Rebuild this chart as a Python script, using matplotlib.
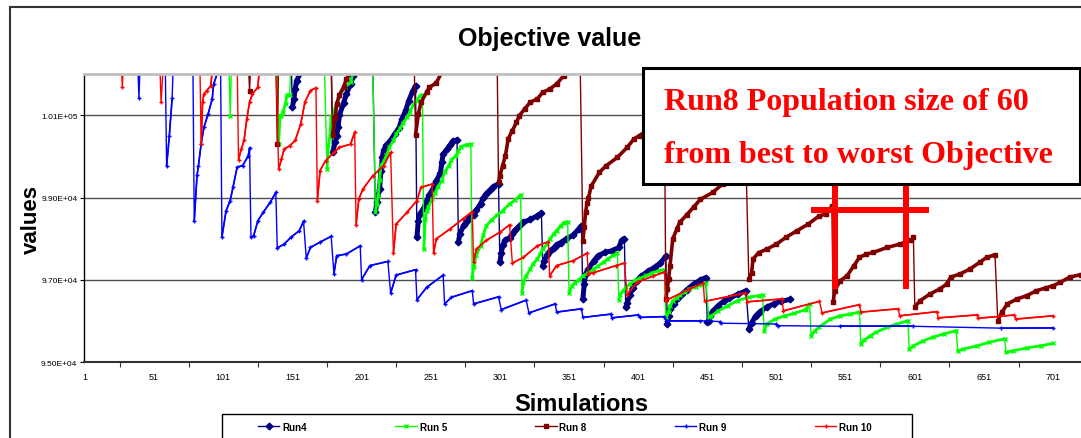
import numpy as np
import matplotlib.pyplot as plt
from matplotlib.lines import Line2D
from matplotlib.patches import Rectangle
from matplotlib.ticker import FuncFormatter

plt.rcParams['font.family'] = ['Liberation Sans', 'DejaVu Sans']

TOP = 102400  # objective values above the plotted range

# (simulation, objective value) per run
run4 = [
    (1, TOP), (150, TOP), (151, 101200), (152, 101400), (153, 101640), (154, 101840), (157, 102050), (158, TOP),
    (179, TOP), (180, 100100), (182, 100350), (183, 100510), (184, 100720), (185, 101010), (188, 101300),
    (190, 101520), (193, 101760), (195, 101960), (196, TOP),
    (209, TOP), (211, 98650), (212, 98890), (214, 99210), (215, 99650), (216, 99990), (217, 100160), (219, 100280),
    (222, 100400), (225, 100550), (228, 100690), (230, 100900), (233, 101130), (235, 101350), (238, 101590), (240, 101720),
    (241, 98040), (242, 98430), (243, 98600), (246, 98750), (248, 98920), (250, 99070), (253, 99240), (255, 99410),
    (258, 99600), (259, 99860), (260, 100060), (263, 100180), (265, 100280), (267, 100380), (270, 100400),
    (271, 97920), (272, 98120), (275, 98340), (277, 98430), (279, 98510), (282, 98580), (284, 98700), (287, 98850),
    (289, 98990), (291, 99090), (294, 99190), (296, 99260), (300, 99340),
    (301, 97430), (302, 97660), (303, 97850), (305, 97970), (308, 98030), (310, 98110), (312, 98210), (315, 98310),
    (318, 98400), (323, 98470), (328, 98560), (331, 98630),
    (332, 97350), (333, 97470), (335, 97610), (337, 97700), (340, 97780), (342, 97860), (345, 97910), (349, 98000),
    (354, 98090), (358, 98240), (360, 98310),
    (361, 96540), (362, 96900), (363, 97150), (365, 97270), (369, 97470), (372, 97590), (377, 97670), (382, 97710),
    (387, 97790), (389, 97960), (391, 98000),
    (392, 96340), (393, 96440), (395, 96640), (397, 96810), (400, 96980), (403, 97090), (408, 97210), (413, 97310),
    (417, 97410), (421, 97580),
    (422, 95930), (423, 96130), (424, 96300), (427, 96420), (430, 96560), (433, 96660), (436, 96760), (441, 96900),
    (446, 97000), (450, 97060),
    (451, 95970), (452, 96010), (453, 96130), (455, 96250), (459, 96380), (463, 96490), (467, 96560), (473, 96650),
    (479, 96740),
    (481, 95810), (483, 95960), (486, 96130), (489, 96230), (494, 96340), (499, 96420), (504, 96480), (511, 96530),
]

run5 = [
    (1, TOP), (105, TOP), (106, 100990), (107, TOP),
    (140, TOP), (141, 100300), (142, 100990), (143, 100990), (144, 101080), (146, 101280), (147, 101500),
    (149, 101500), (150, TOP),
    (174, TOP), (176, 99700), (177, 100280), (178, 100470), (179, 100960), (181, 101110), (183, 101300),
    (185, 101470), (189, 101680), (193, 101800), (195, 102050), (196, TOP),
    (209, TOP), (211, 98650), (212, 98850), (213, 99050), (214, 99430), (215, 99790), (217, 99880), (219, 100030),
    (221, 100220), (224, 100390), (226, 100550), (229, 100690), (231, 100820), (234, 100950), (236, 101090),
    (238, 101240), (241, 101360), (243, 101460), (245, 101500),
    (246, 97750), (247, 98480), (248, 98680), (249, 98770), (252, 98960), (254, 99110), (256, 99260), (259, 99410),
    (261, 99620), (264, 99780), (266, 99920), (269, 100010), (271, 100130), (273, 100240), (277, 100290), (280, 100300),
    (281, 97050), (282, 97320), (284, 97610), (287, 97830), (289, 98090), (291, 98310), (295, 98460), (299, 98580),
    (303, 98680), (308, 98850), (312, 98940), (316, 99070),
    (317, 96690), (318, 96940), (320, 97100), (323, 97270), (325, 97390), (328, 97510), (330, 97630), (332, 97750),
    (335, 97870), (337, 97990), (340, 98120), (342, 98200), (345, 98320), (347, 98390), (350, 98420),
    (351, 96680), (353, 96850), (355, 96930), (358, 97000), (361, 97100), (365, 97170), (369, 97270), (372, 97340),
    (376, 97440), (379, 97510), (383, 97600), (386, 97660),
    (387, 96520), (388, 96640), (390, 96730), (392, 96820), (395, 96900), (399, 96990), (402, 97040), (407, 97110),
    (411, 97170), (416, 97230), (420, 97250),
    (421, 96090), (423, 96230), (424, 96380), (426, 96490), (429, 96570), (431, 96640), (435, 96720), (438, 96780),
    (443, 96840), (447, 96880), (450, 96930),
    (452, 96090), (454, 96130), (459, 96250), (466, 96380), (473, 96500), (481, 96580), (488, 96620), (491, 96640),
    (492, 95750), (494, 95930), (500, 96050), (507, 96130), (514, 96190), (522, 96280), (525, 96420),
    (526, 95650), (529, 95770), (532, 95860), (540, 96050), (547, 96130), (554, 96170), (561, 96220),
    (562, 95440), (564, 95530), (569, 95650), (573, 95730), (581, 95850), (588, 95930), (596, 96010),
    (597, 95320), (600, 95400), (607, 95520), (614, 95610), (622, 95690), (631, 95770),
    (632, 95280), (636, 95320), (646, 95400), (655, 95490), (666, 95570),
    (667, 95240), (672, 95280), (682, 95350), (692, 95400), (701, 95460),
]

run8 = [
    (1, TOP), (119, TOP), (120, 101600), (121, TOP),
    (139, TOP), (140, 100300), (141, TOP),
    (179, TOP), (180, 100520), (182, 100960), (183, 101280), (185, 101500), (188, 101690), (190, 101880),
    (193, 102050), (194, TOP),
    (239, TOP), (240, 100520), (242, 101030), (244, 101320), (248, 101560), (250, 101680), (255, 101790),
    (259, 102050), (260, TOP),
    (299, TOP), (300, 99370), (301, 99530), (303, 99780), (305, 100020), (307, 100430), (310, 100630),
    (313, 100830), (315, 100990), (319, 101160), (323, 101320), (328, 101400), (332, 101560), (337, 101640),
    (342, 101760), (347, 101960), (350, TOP),
    (359, TOP), (361, 97950), (362, 98290), (363, 98650), (364, 98870), (365, 98990), (367, 99280), (373, 99620),
    (378, 99780), (386, 99980), (393, 100220), (398, 100430), (402, 100510), (410, 100700), (420, 100900),
    (421, 96540), (422, 96780), (423, 97020), (424, 97350), (426, 98000), (429, 98240), (431, 98400), (436, 98580),
    (441, 98770), (446, 98960), (455, 99130), (462, 99330), (470, 99500), (479, 99800),
    (481, 97020), (483, 97170), (484, 97510), (488, 97660), (494, 97750), (501, 97870), (508, 98040), (516, 98200),
    (524, 98360), (532, 98560), (537, 98600), (541, 98800),
    (542, 96460), (543, 96740), (547, 96980), (552, 97100), (557, 97350), (561, 97550), (566, 97630), (571, 97670),
    (581, 97790), (590, 97870), (598, 97960), (600, 98040),
    (601, 96350), (605, 96500), (612, 96660), (619, 96780), (624, 96900), (627, 97070), (634, 97150), (641, 97270),
    (648, 97430), (653, 97550), (659, 97610),
    (661, 96010), (664, 96220), (668, 96420), (675, 96540), (682, 96620), (689, 96740), (696, 96810), (701, 96860),
    (706, 96940), (713, 97070), (721, 97130),
]

run9 = [
    (1, TOP), (39, TOP), (40, 101415), (41, TOP),
    (59, TOP), (60, 99760), (62, 100510), (64, 101415), (65, TOP),
    (79, TOP), (80, 98430), (82, 99540), (83, 99770), (85, 100310), (87, 100710), (90, 101030), (93, 101400),
    (94, 101760), (97, 102050), (99, TOP),
    (100, 98040), (103, 98680), (106, 98930), (108, 99250), (111, 99740), (115, 99780), (119, 100010), (120, 100210),
    (121, 98040), (123, 98080), (126, 98440), (130, 98650), (135, 98890), (139, 99130),
    (140, 97780), (145, 97870), (150, 98040), (156, 98200), (159, 98430),
    (161, 97530), (164, 97790), (171, 97920), (179, 98060),
    (181, 97150), (183, 97590), (190, 97630), (200, 97830),
    (201, 97010), (207, 97350), (220, 97450),
    (222, 96680), (226, 97120), (240, 97250),
    (241, 96520), (248, 96820), (260, 97120),
    (261, 96420), (266, 96580), (281, 96740),
    (282, 96420), (300, 96590),
    (302, 96280), (320, 96510),
    (322, 96200), (341, 96420),
    (342, 96220), (360, 96300),
    (361, 96090), (381, 96170),
    (382, 96080), (401, 96150),
    (402, 96090), (420, 96110),
    (421, 96010), (446, 96010), (460, 95990),
    (461, 95950), (501, 95930),
    (502, 95890), (547, 95875), (600, 95875), (663, 95830), (701, 95835),
]

run10 = [
    (1, TOP), (27, TOP), (28, 101700), (29, TOP),
    (55, TOP), (56, 101320), (58, TOP),
    (84, TOP), (85, 100300), (86, 101320), (87, 101520), (89, 101600), (92, 101720), (93, 102100), (94, TOP),
    (111, TOP), (112, 99920), (114, 100180), (116, 100390), (118, 100910), (120, 101320), (122, 101520),
    (126, 101680), (127, 102100), (128, TOP),
    (139, TOP), (141, 99690), (143, 99930), (145, 100180), (149, 100260), (153, 100390), (157, 100790),
    (160, 101320), (164, 101600), (168, 101670),
    (169, 98930), (171, 99660), (175, 99900), (181, 100100), (185, 100220), (193, 100300), (196, 100590),
    (197, 98340), (199, 98970), (202, 99210), (209, 99530), (217, 99780), (222, 100100),
    (224, 97650), (226, 98360), (234, 98650), (241, 98930), (244, 99250), (252, 99330),
    (253, 97650), (255, 98000), (265, 98240), (274, 98480), (281, 98660),
    (282, 97440), (284, 97750), (291, 97960), (301, 98160), (308, 98340),
    (310, 97410), (318, 97550), (328, 97830), (336, 97930),
    (337, 97100), (342, 97350), (354, 97470), (364, 97650),
    (365, 97150), (368, 97170), (385, 97350), (391, 97410),
    (393, 96640), (400, 96940), (412, 97100), (420, 97190),
    (421, 96500), (438, 96780), (448, 96930),
    (449, 96480), (478, 96680),
    (480, 96470), (505, 96540),
    (506, 96250), (532, 96480),
    (534, 96200), (561, 96400),
    (562, 96220), (589, 96300),
    (590, 96130), (617, 96230),
    (618, 96080), (646, 96150),
    (647, 96070), (673, 96150),
    (674, 96050), (701, 96130),
]

x_labels = list(range(1, 702, 50))
y_ticks = [95000, 97000, 99000, 101000]

# name, data, colour, marker, marker size, width of the climbing stretches
series = [
    ('Run4', run4, '#000080', 'D', 3.4, 3.6),
    ('Run 5', run5, '#00ff00', 'x', 3.4, 2.0),
    ('Run 8', run8, '#800000', 's', 2.6, 2.6),
    ('Run 9', run9, '#0000ff', '+', 2.6, 1.2),
    ('Run 10', run10, '#ff0000', '+', 2.6, 1.2),
]


def climbing_runs(pts):
    """Split a run into its rising stretches (between the drops)."""
    runs, cur = [], []
    for s, v in pts:
        if v >= TOP or (cur and v < cur[-1][1]):
            if len(cur) > 1:
                runs.append(cur)
            cur = [] if v >= TOP else [(s, v)]
        else:
            cur.append((s, v))
    if len(cur) > 1:
        runs.append(cur)
    return runs


W, H = 1081, 439
fig = plt.figure(figsize=(W / 100, H / 100), dpi=100)


def fx(px):
    return px / W


def fy(py):
    return 1 - py / H


ax = fig.add_axes([fx(84.3), fy(363.3), 749.5 * 1.383 / W, (363.3 - 75.2) / H])

for i, (name, pts, color, marker, ms, thick) in enumerate(series):
    z = 2 + i * 0.1
    xs, ys = zip(*pts)
    ax.plot(xs, ys, color=color, lw=1, marker=marker, ms=ms, mew=1,
            label=name, zorder=z)
    for seg in climbing_runs(pts):
        sx, sy = zip(*seg)
        ax.plot(sx, sy, color=color, lw=thick, solid_capstyle='round',
                solid_joinstyle='round', zorder=z)

ax.set_xlim(0.5, 750)
ax.set_ylim(95000, 102000)

ax.set_yticks(y_ticks)
ax.yaxis.set_major_formatter(FuncFormatter(lambda v, p: f'{v:.2E}'))
ax.yaxis.grid(True, color='#505050', lw=1)
ax.set_axisbelow(True)
ax.tick_params(axis='y', length=3, width=0.8, labelsize=6, pad=2)

ax.set_xticks(x_labels)
ax.set_xticklabels([str(v) for v in x_labels])
ax.set_xticks(np.arange(26, 750, 50), minor=True)
ax.tick_params(axis='x', which='major', length=0, labelsize=6.5, pad=7)
ax.tick_params(axis='x', which='minor', length=3.5, width=0.8, color='#333333')

ax.spines['top'].set_color('#c0c0c0')
ax.spines['top'].set_linewidth(2)
ax.spines['right'].set_visible(False)
ax.spines['left'].set_color('black')
ax.spines['left'].set_linewidth(1)
ax.spines['bottom'].set_color('#333333')
ax.spines['bottom'].set_linewidth(1.5)

# chart frame (left and top edges)
fig.add_artist(Line2D([fx(9.5), fx(9.5)], [fy(8), 0], color='#333333', lw=1.5))
fig.add_artist(Line2D([fx(9.5), 1], [fy(8), fy(8)], color='#333333', lw=1.5))

fig.text(fx(550), fy(46), 'Objective value', ha='center', va='baseline',
         fontsize=18, weight='bold')
fig.text(fx(31), fy(219), 'values', ha='center', va='center', rotation=90,
         fontsize=16, weight='bold')
fig.text(fx(581), fy(411.5), 'Simulations', ha='center', va='baseline',
         fontsize=17, weight='bold')

# legend
handles, labels = ax.get_legend_handles_labels()
fig.legend(handles, labels, ncol=5, loc='center left', mode='expand',
           bbox_to_anchor=(fx(258), fy(427.7), fx(872) - fx(258), 0),
           frameon=False, borderpad=0, borderaxespad=0, handlelength=2.2,
           handletextpad=0.3, prop={'weight': 'bold', 'size': 7})
fig.add_artist(Rectangle((fx(222), fy(445)), fx(912) - fx(222), fy(415) - fy(445),
                         fill=False, edgecolor='black', lw=1, transform=fig.transFigure))

# red cross marks
for x0, y0, x1, y1 in [(831.7, 180, 838, 290), (903, 180, 909.3, 290), (810.7, 207.5, 929.3, 213.5)]:
    fig.add_artist(Rectangle((fx(x0), fy(y1)), fx(x1) - fx(x0), fy(y0) - fy(y1),
                             facecolor='#ff0000', edgecolor='none',
                             transform=fig.transFigure, zorder=4))

# annotation box
fig.add_artist(Rectangle((fx(643), fy(184.5)), fx(1079.5) - fx(643), fy(69) - fy(184.5),
                         facecolor='white', edgecolor='black', lw=2.2,
                         transform=fig.transFigure, zorder=5))
serif = ['Liberation Serif', 'DejaVu Serif']
fig.text(fx(664), fy(110), 'Run8 Population size of 60', color='#ff0000',
         fontsize=23, weight='bold', family=serif, va='baseline', zorder=6)
fig.text(fx(664), fy(163), 'from best to worst Objective', color='#ff0000',
         fontsize=23, weight='bold', family=serif, va='baseline', zorder=6)

fig.savefig('out.png', dpi=100)
